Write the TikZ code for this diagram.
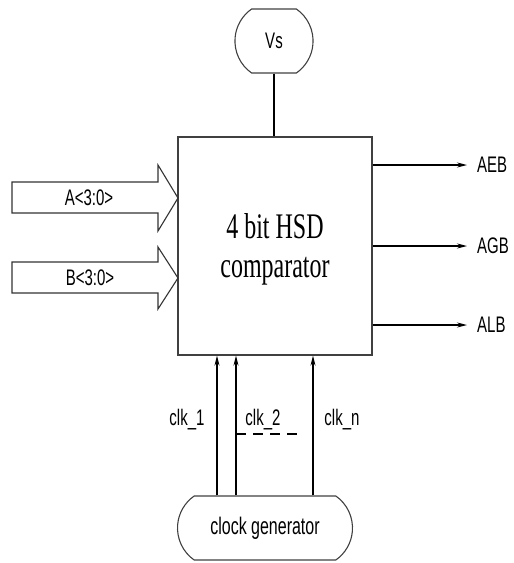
\documentclass[tikz,border=0pt]{standalone}
\usepackage{fontspec}
\setmainfont{Liberation Serif}
\setsansfont{Liberation Sans}
\usetikzlibrary{arrows.meta,shapes.misc}
\newcommand\tallt[1]{\scalebox{1}[1.5]{#1}}
\begin{document}
\begin{tikzpicture}[x=1pt,y=-1pt,
  lbl/.style={font=\sffamily\fontsize{15}{15}\selectfont,inner sep=0pt},
  frame/.style={draw=black!75,line width=1.3pt},
  pill/.style={rounded rectangle,rounded rectangle arc length=110,draw=black!75,line width=1.1pt,
     minimum height=64pt,inner sep=0pt},
  sig/.style={black,line width=1.1pt,-{Stealth[length=10pt,width=5pt]}},
  bus/.style={draw=black!80,line width=1.1pt,fill=white}]
\useasboundingbox (0,0) rectangle (514,563);
% main block
\node[frame,minimum width=194pt,minimum height=218pt,inner sep=0pt] (cmp) at (275,246) {};
\node[font=\fontsize{24}{24}\selectfont,align=center,inner sep=0pt] (cmptxt) at (275,249)
  {\tallt{4 bit HSD}\\[15pt]\tallt{comparator}};
% Vs
\node[pill,minimum width=78pt] (vs) at (274,41) {\sffamily\fontsize{15}{15}\selectfont\tallt{Vs}};
\draw[black,line width=1.1pt] (vs.south) -- (vs.south |- cmp.north);
% clock generator
\node[pill,minimum width=175pt] (cg) at (265,528) {\sffamily\fontsize{16}{16}\selectfont\tallt{clock generator}};
\coordinate (x1) at (217,0);
\coordinate (x2) at (236,0);
\coordinate (xn) at (313,0);
\draw[sig] (cg.north -| x1) -- (cmp.south -| x1);
\draw[sig] (cg.north -| x2) -- (cmp.south -| x2);
\draw[sig] (cg.north -| xn) -- (cmp.south -| xn);
\coordinate (d1) at (236,434);
\coordinate (d2) at (303,434);
\draw[black,line width=1.1pt,dash pattern=on 10pt off 7pt] (d1) -- (d2);
\node[lbl] (l1) at (187,420) {\tallt{clk\_1}};
\node[lbl] (l2) at (263,420) {\tallt{clk\_2}};
\node[lbl] (ln) at (342,420) {\tallt{clk\_n}};
% outputs
\coordinate (o1) at (467,165);
\coordinate (o2) at (467,246);
\coordinate (o3) at (467,325);
\draw[sig] (cmp.east |- o1) -- (o1);
\draw[sig] (cmp.east |- o2) -- (o2);
\draw[sig] (cmp.east |- o3) -- (o3);
\node[lbl,anchor=west] (aeb) at (477,165) {\tallt{AEB}};
\node[lbl,anchor=west] (agb) at (477,246) {\tallt{AGB}};
\node[lbl,anchor=west] (alb) at (477,325) {\tallt{ALB}};
% bus inputs
\path[bus] (12,182) -- (158,182) -- (158,165) -- (178,198) -- (158,231) -- (158,213) -- (12,213) -- cycle;
\path[bus] (12,262) -- (158,262) -- (158,247) -- (178,278) -- (158,309) -- (158,293) -- (12,293) -- cycle;
\node[lbl] (ain) at (89,198) {\tallt{A<3:0>}};
\node[lbl] (bin) at (90,278) {\tallt{B<3:0>}};
\end{tikzpicture}
\end{document}
